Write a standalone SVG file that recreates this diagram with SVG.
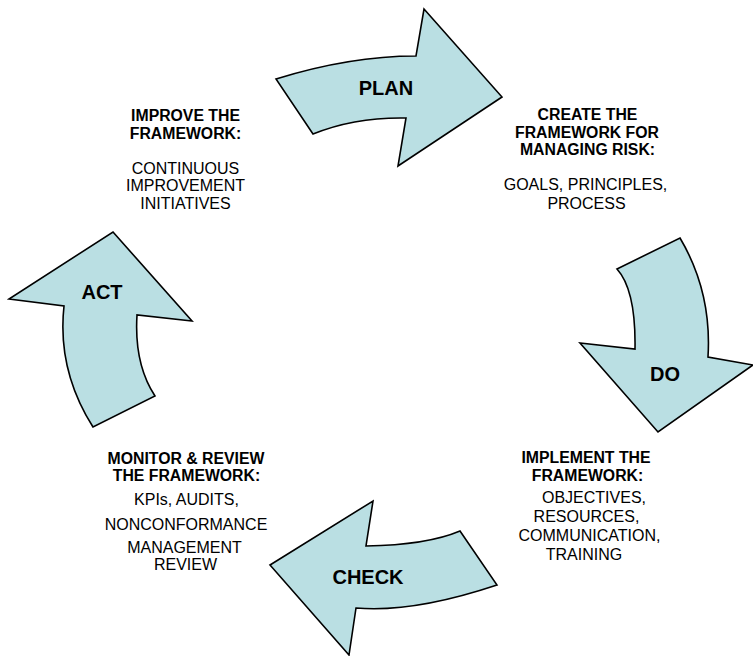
<svg xmlns="http://www.w3.org/2000/svg" width="753" height="656" viewBox="0 0 753 656">
  <style>
    .arrow { fill: #BADFE3; stroke: #000000; stroke-width: 1.6; stroke-linejoin: miter; }
    .label { font-family: "Liberation Sans", Arial, sans-serif; font-size: 20px; font-weight: bold; fill: #000000; text-anchor: middle; }
    .head { font-family: "Liberation Sans", Arial, sans-serif; font-size: 15.8px; font-weight: bold; fill: #000000; text-anchor: middle; }
    .body { font-family: "Liberation Sans", Arial, sans-serif; font-size: 16px; fill: #000000; text-anchor: middle; }
  </style>
  <rect width="753" height="656" fill="#FFFFFF"/>

  <!-- Curved cycle arrows -->
  <g id="plan">
    <path class="arrow" d="M 276,79 Q 350,56 416,56 L 424,9 L 502,97 L 398,166 L 406,118 Q 355,117 313,134 Z"/>
    <text class="label" x="386" y="95">PLAN</text>
  </g>

  <g id="do">
    <path class="arrow" d="M 617,269 L 680,238 Q 712,292 708,357 L 753,365 L 658,432 L 580,343 L 635,349 Q 636,290 617,269 Z"/>
    <text class="label" x="665" y="381">DO</text>
  </g>

  <g id="check">
    <path class="arrow" d="M 460,531 L 497,585 Q 413,613 356,608 L 349,655 L 270,565 L 373,501 L 366,546 Q 427,545 460,531 Z"/>
    <text class="label" x="368" y="584">CHECK</text>
  </g>

  <g id="act">
    <path class="arrow" d="M 113,232 L 192,321 L 137,315 Q 134,364 155,396 L 93,427 Q 57,370 64,306 L 9,299 Z"/>
    <text class="label" x="102" y="299">ACT</text>
  </g>

  <!-- Stage descriptions -->
  <g id="improve-text">
    <text class="head" x="185.5" y="121">IMPROVE THE</text>
    <text class="head" x="185.5" y="138.5">FRAMEWORK:</text>
    <text class="body" x="185.5" y="173.5">CONTINUOUS</text>
    <text class="body" x="185.5" y="191">IMPROVEMENT</text>
    <text class="body" x="185.5" y="208.5">INITIATIVES</text>
  </g>

  <g id="create-text">
    <text class="head" x="587.5" y="120">CREATE THE</text>
    <text class="head" x="587" y="137.5">FRAMEWORK FOR</text>
    <text class="head" x="587.5" y="155">MANAGING RISK:</text>
    <text class="body" x="585.5" y="190">GOALS, PRINCIPLES,</text>
    <text class="body" x="586.5" y="208.5">PROCESS</text>
  </g>

  <g id="implement-text">
    <text class="head" x="586" y="463">IMPLEMENT THE</text>
    <text class="head" x="587.5" y="480.5">FRAMEWORK:</text>
    <text class="body" x="594" y="502.5">OBJECTIVES,</text>
    <text class="body" x="586.5" y="521.5">RESOURCES,</text>
    <text class="body" x="589.5" y="540.5">COMMUNICATION,</text>
    <text class="body" x="584" y="560">TRAINING</text>
  </g>

  <g id="monitor-text">
    <text class="head" x="186" y="463.5">MONITOR &amp; REVIEW</text>
    <text class="head" x="186.5" y="481">THE FRAMEWORK:</text>
    <text class="body" x="186.5" y="505">KPIs, AUDITS,</text>
    <text class="body" x="186" y="530">NONCONFORMANCE</text>
    <text class="body" x="184.5" y="553">MANAGEMENT</text>
    <text class="body" x="185.5" y="570">REVIEW</text>
  </g>
</svg>
